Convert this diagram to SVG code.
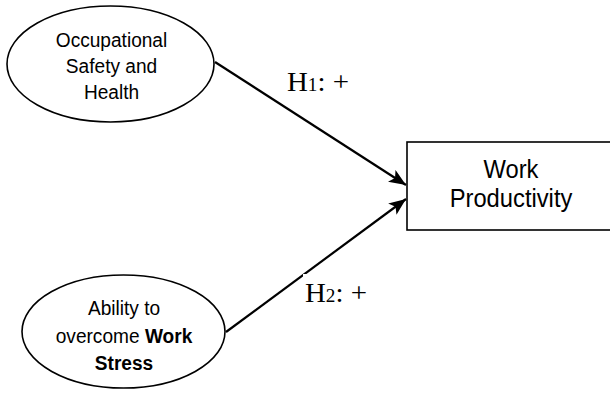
<svg xmlns="http://www.w3.org/2000/svg" width="610" height="396" viewBox="0 0 610 396">
  <style>
    .shape { fill: #ffffff; stroke: #000000; stroke-width: 1.6; }
    .sans { font-family: "Liberation Sans", Arial, sans-serif; fill: #000000; text-anchor: middle; }
    .el { font-size: 21px; }
    .bx { font-size: 25px; }
    .serif { font-family: "Liberation Serif", "Times New Roman", serif; fill: #000000; font-size: 27px; }
    .conn { stroke: #000000; stroke-width: 2.2; fill: none; marker-end: url(#arrow); }
  </style>
  <defs>
    <marker id="arrow" markerUnits="userSpaceOnUse" markerWidth="18" markerHeight="14" refX="17" refY="7" orient="auto">
      <path d="M0,0 L17,7 L0,14 L4,7 Z" fill="#000000"/>
    </marker>
  </defs>
  <rect width="610" height="396" fill="#ffffff"/>

  <g id="connectors">
    <line class="conn" x1="215" y1="62" x2="406" y2="185"/>
    <line class="conn" x1="226" y1="332" x2="406" y2="199"/>
  </g>

  <g id="node-osh">
    <ellipse class="shape" cx="110.5" cy="64" rx="103.5" ry="58"/>
    <text class="sans el" transform="translate(111.5,47) scale(0.91,1)">Occupational</text>
    <text class="sans el" transform="translate(111.5,73) scale(0.91,1)">Safety and</text>
    <text class="sans el" transform="translate(111.5,99) scale(0.91,1)">Health</text>
  </g>

  <g id="node-stress">
    <ellipse class="shape" cx="123.5" cy="331.5" rx="101.5" ry="56.5"/>
    <text class="sans el" transform="translate(124,315) scale(0.91,1)">Ability to</text>
    <text class="sans el" transform="translate(124,343) scale(0.91,1)">overcome <tspan font-weight="bold">Work</tspan></text>
    <text class="sans el" transform="translate(124,370) scale(0.91,1)" font-weight="bold">Stress</text>
  </g>

  <g id="node-productivity">
    <rect class="shape" x="407" y="142" width="210" height="88"/>
    <text class="sans bx" transform="translate(511,178) scale(0.95,1)">Work</text>
    <text class="sans bx" transform="translate(511,207) scale(0.95,1)">Productivity</text>
  </g>

  <g id="label-h1">
    <text class="serif" transform="translate(287,91) scale(1.07,1)">H<tspan font-size="18">1</tspan>: +</text>
  </g>

  <g id="label-h2">
    <rect x="303" y="274" width="68" height="32" fill="#ffffff"/>
    <text class="serif" transform="translate(305,302) scale(1.07,1)">H<tspan font-size="18">2</tspan>: +</text>
  </g>
</svg>
